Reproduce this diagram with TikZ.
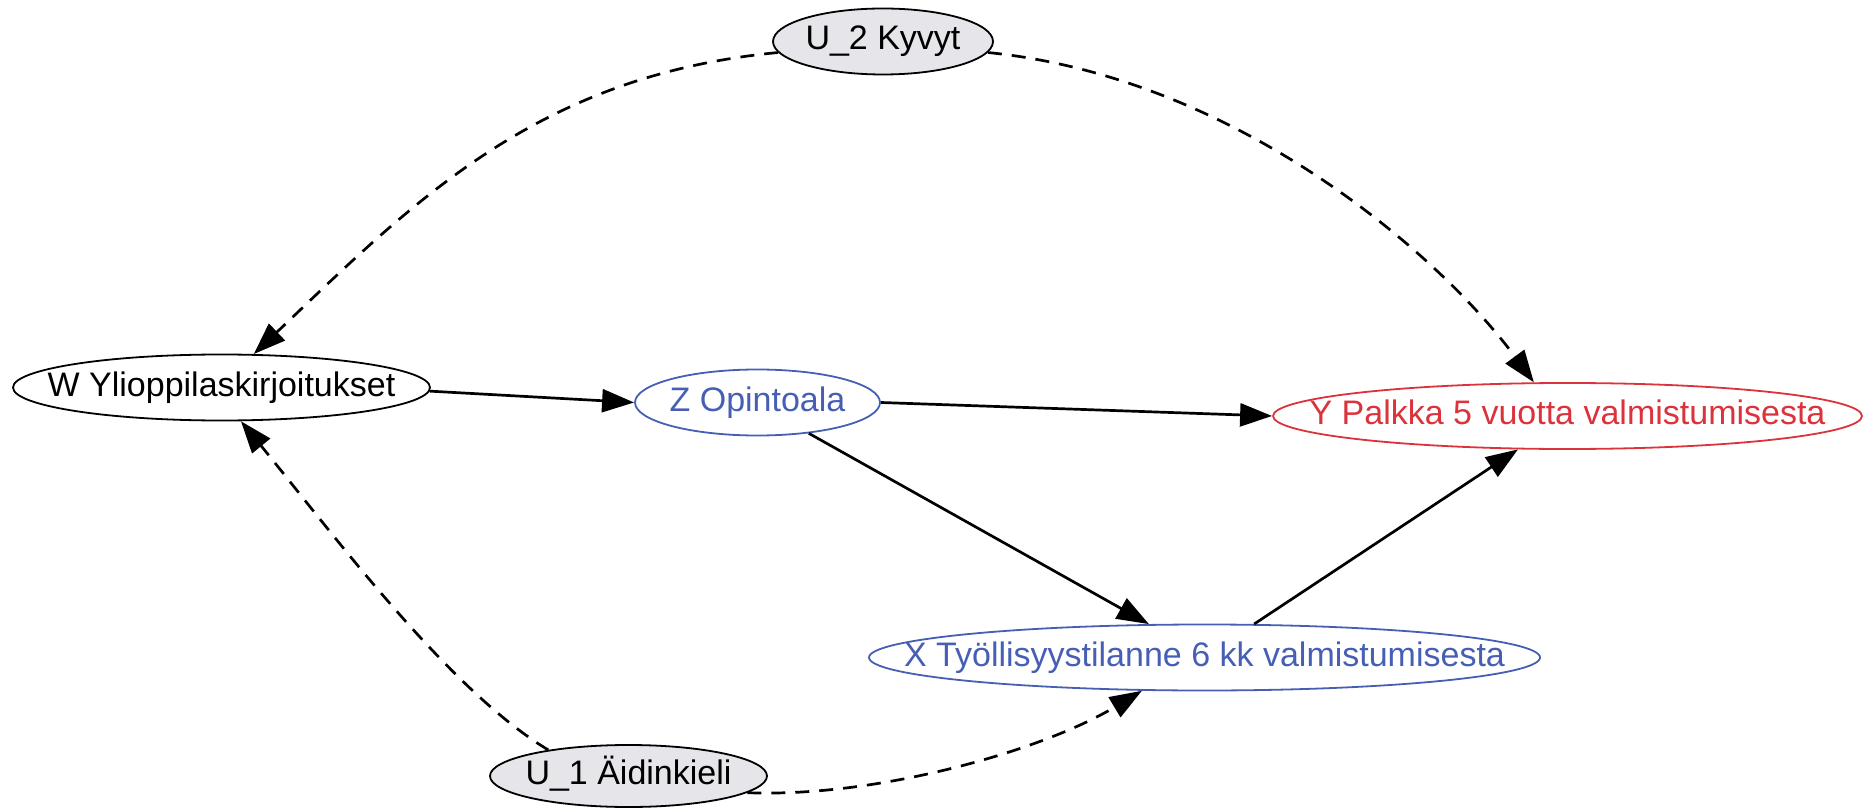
\documentclass[tikz,border=0pt]{standalone}
\usepackage{fontspec}
\setmainfont{Liberation Sans}
\usetikzlibrary{arrows.meta,shapes.geometric}
\definecolor{nodeblue}{RGB}{70,95,180}
\definecolor{nodered}{RGB}{220,50,60}
\definecolor{ufill}{RGB}{229,229,234}
\newcommand{\zw}[1]{\makebox[0pt]{#1}}
\begin{document}
\begin{tikzpicture}[x=0.5pt,y=-0.5pt,
  var/.style={ellipse, draw, line width=0.9pt, inner sep=0pt, minimum height=33pt,
    text height=12pt, text depth=3.5pt,
    font=\fontsize{17}{20}\selectfont},
  latentvar/.style={var, fill=ufill},
  bluevar/.style={var, draw=nodeblue, text=nodeblue},
  redvar/.style={var, draw=nodered, text=nodered},
  edge/.style={line width=1.35pt, -{Triangle[length=16pt,width=11.5pt]}},
  latentedge/.style={edge, dash pattern=on 7pt off 5pt},
]
\useasboundingbox (0,0) rectangle (1867,812);
\node[latentvar, minimum width=110pt] (U2) at (883,41.5) {\zw{U\_2 Kyvyt}};
\node[var, minimum width=208.5pt] (W) at (221.5,387.5) {\zw{W Ylioppilaskirjoitukset}};
\node[bluevar, minimum width=122.5pt] (Z) at (757.5,402.5) {\zw{Z Opintoala}};
\node[redvar, minimum width=294.5pt] (Y) at (1567.5,416) {\zw{Y Palkka 5 vuotta valmistumisesta}};
\node[bluevar, minimum width=335.5pt] (X) at (1204.5,657.5) {\zw{X Työllisyystilanne 6 kk valmistumisesta}};
\node[latentvar, minimum width=138.5pt, minimum height=31pt] (U1) at (628.5,776) {\zw{U\_1 Äidinkieli}};

\draw[edge] (W.-1) -- (Z.west);
\draw[edge] (Z.east) -- (Y.west);
\draw[edge] (Z.-31) -- (X.149);
\draw[edge] (X.34) -- (Y.214);

\draw[latentedge] (U2.186) .. controls +(-243,23) and +(158,-150) .. (W.46);
\draw[latentedge] (U2.-6) .. controls +(250,25) and +(-93,-126) .. (Y.135);
\draw[latentedge] (U1.162) .. controls +(-100,-60) and +(90,110) .. (W.-60);
\draw[latentedge] (U1.-8) .. controls +(130,5) and +(-100,60) .. (X.208);
\end{tikzpicture}
\end{document}
